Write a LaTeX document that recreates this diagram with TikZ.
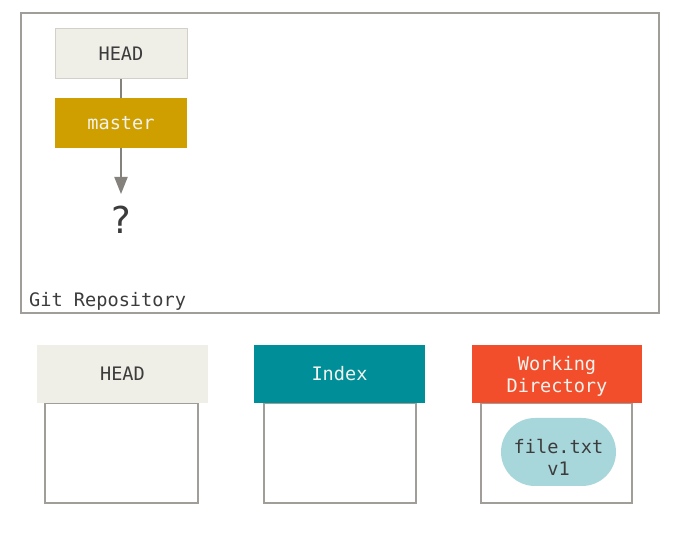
\documentclass[tikz,border=0pt]{standalone}
\usepackage{fontspec}
\setmonofont{DejaVu Sans Mono}
\newfontfamily\qfont{DejaVu Sans}
\usetikzlibrary{arrows.meta}
\definecolor{frame}{HTML}{A19E99}
\definecolor{headfill}{HTML}{EFEEE7}
\definecolor{headline}{HTML}{D2D0C8}
\definecolor{masterfill}{HTML}{CF9F00}
\definecolor{indexfill}{HTML}{008F98}
\definecolor{wdfill}{HTML}{F24E2B}
\definecolor{blobfill}{HTML}{A8D7DB}
\definecolor{darktext}{HTML}{3C3C3C}
\definecolor{lighttext}{HTML}{F2F2EE}
\definecolor{arrowgray}{HTML}{85827D}
\tikzset{
  txt/.style={font=\ttfamily\fontsize{18.6}{22}\selectfont},
  hdr/.style={txt, inner sep=0pt, align=center},
  areabox/.style={draw=frame, line width=2pt, fill=white, inner sep=0pt},
  conn/.style={draw=arrowgray, line width=2pt}
}
\begin{document}
\begin{tikzpicture}[x=1pt,y=-1pt]
\useasboundingbox (0,0) rectangle (673,537);
% repository frame
\node[areabox, minimum width=638pt, minimum height=300pt] (repo) at (340,163) {};
\node[txt, text=darktext, anchor=base west, inner sep=0pt] (repolabel) at (29,307) {Git Repository};
% HEAD -> master -> ?
\node[hdr, fill=headfill, draw=headline, line width=1pt, text=darktext, minimum width=132pt, minimum height=50pt] (head) at (121,54) {HEAD};
\node[hdr, fill=masterfill, text=lighttext, minimum width=132pt, minimum height=50pt] (master) at (121,123) {master};
\node[font=\qfont\fontsize{37}{40}\selectfont, text=darktext, inner sep=0pt] (q) at (121,220) {?};
\draw[conn] (head.south) -- (master.north);
\coordinate (tip) at (121,194);
\draw[conn, -{Triangle[width=13pt,length=17pt]}, arrowgray] (master.south) -- (tip);
% bottom areas
\node[areabox, minimum width=153pt, minimum height=100pt] (headbox) at (121.5,453) {};
\node[areabox, minimum width=152pt, minimum height=100pt] (indexbox) at (340,453) {};
\node[areabox, minimum width=151pt, minimum height=100pt] (wdbox) at (556.5,453) {};
\node[hdr, fill=headfill, text=darktext, minimum width=171pt, minimum height=58pt] (head2) at (122.5,374) {HEAD};
\node[hdr, fill=indexfill, text=lighttext, minimum width=171pt, minimum height=58pt] (index) at (339.5,374) {Index};
\node[hdr, fill=wdfill, minimum width=170pt, minimum height=58pt] (wd) at (557,374) {};
\node[hdr, text=lighttext] (wdtext) at ([yshift=-2pt]wd.center) {Working\\Directory};
\node[fill=blobfill, rounded corners=34pt, minimum width=115pt, minimum height=68pt, inner sep=0pt] (blob) at (558.5,452) {};
\node[hdr, text=darktext] (blobtext) at ([yshift=-5pt]blob.center) {file.txt\\v1};
\end{tikzpicture}
\end{document}
